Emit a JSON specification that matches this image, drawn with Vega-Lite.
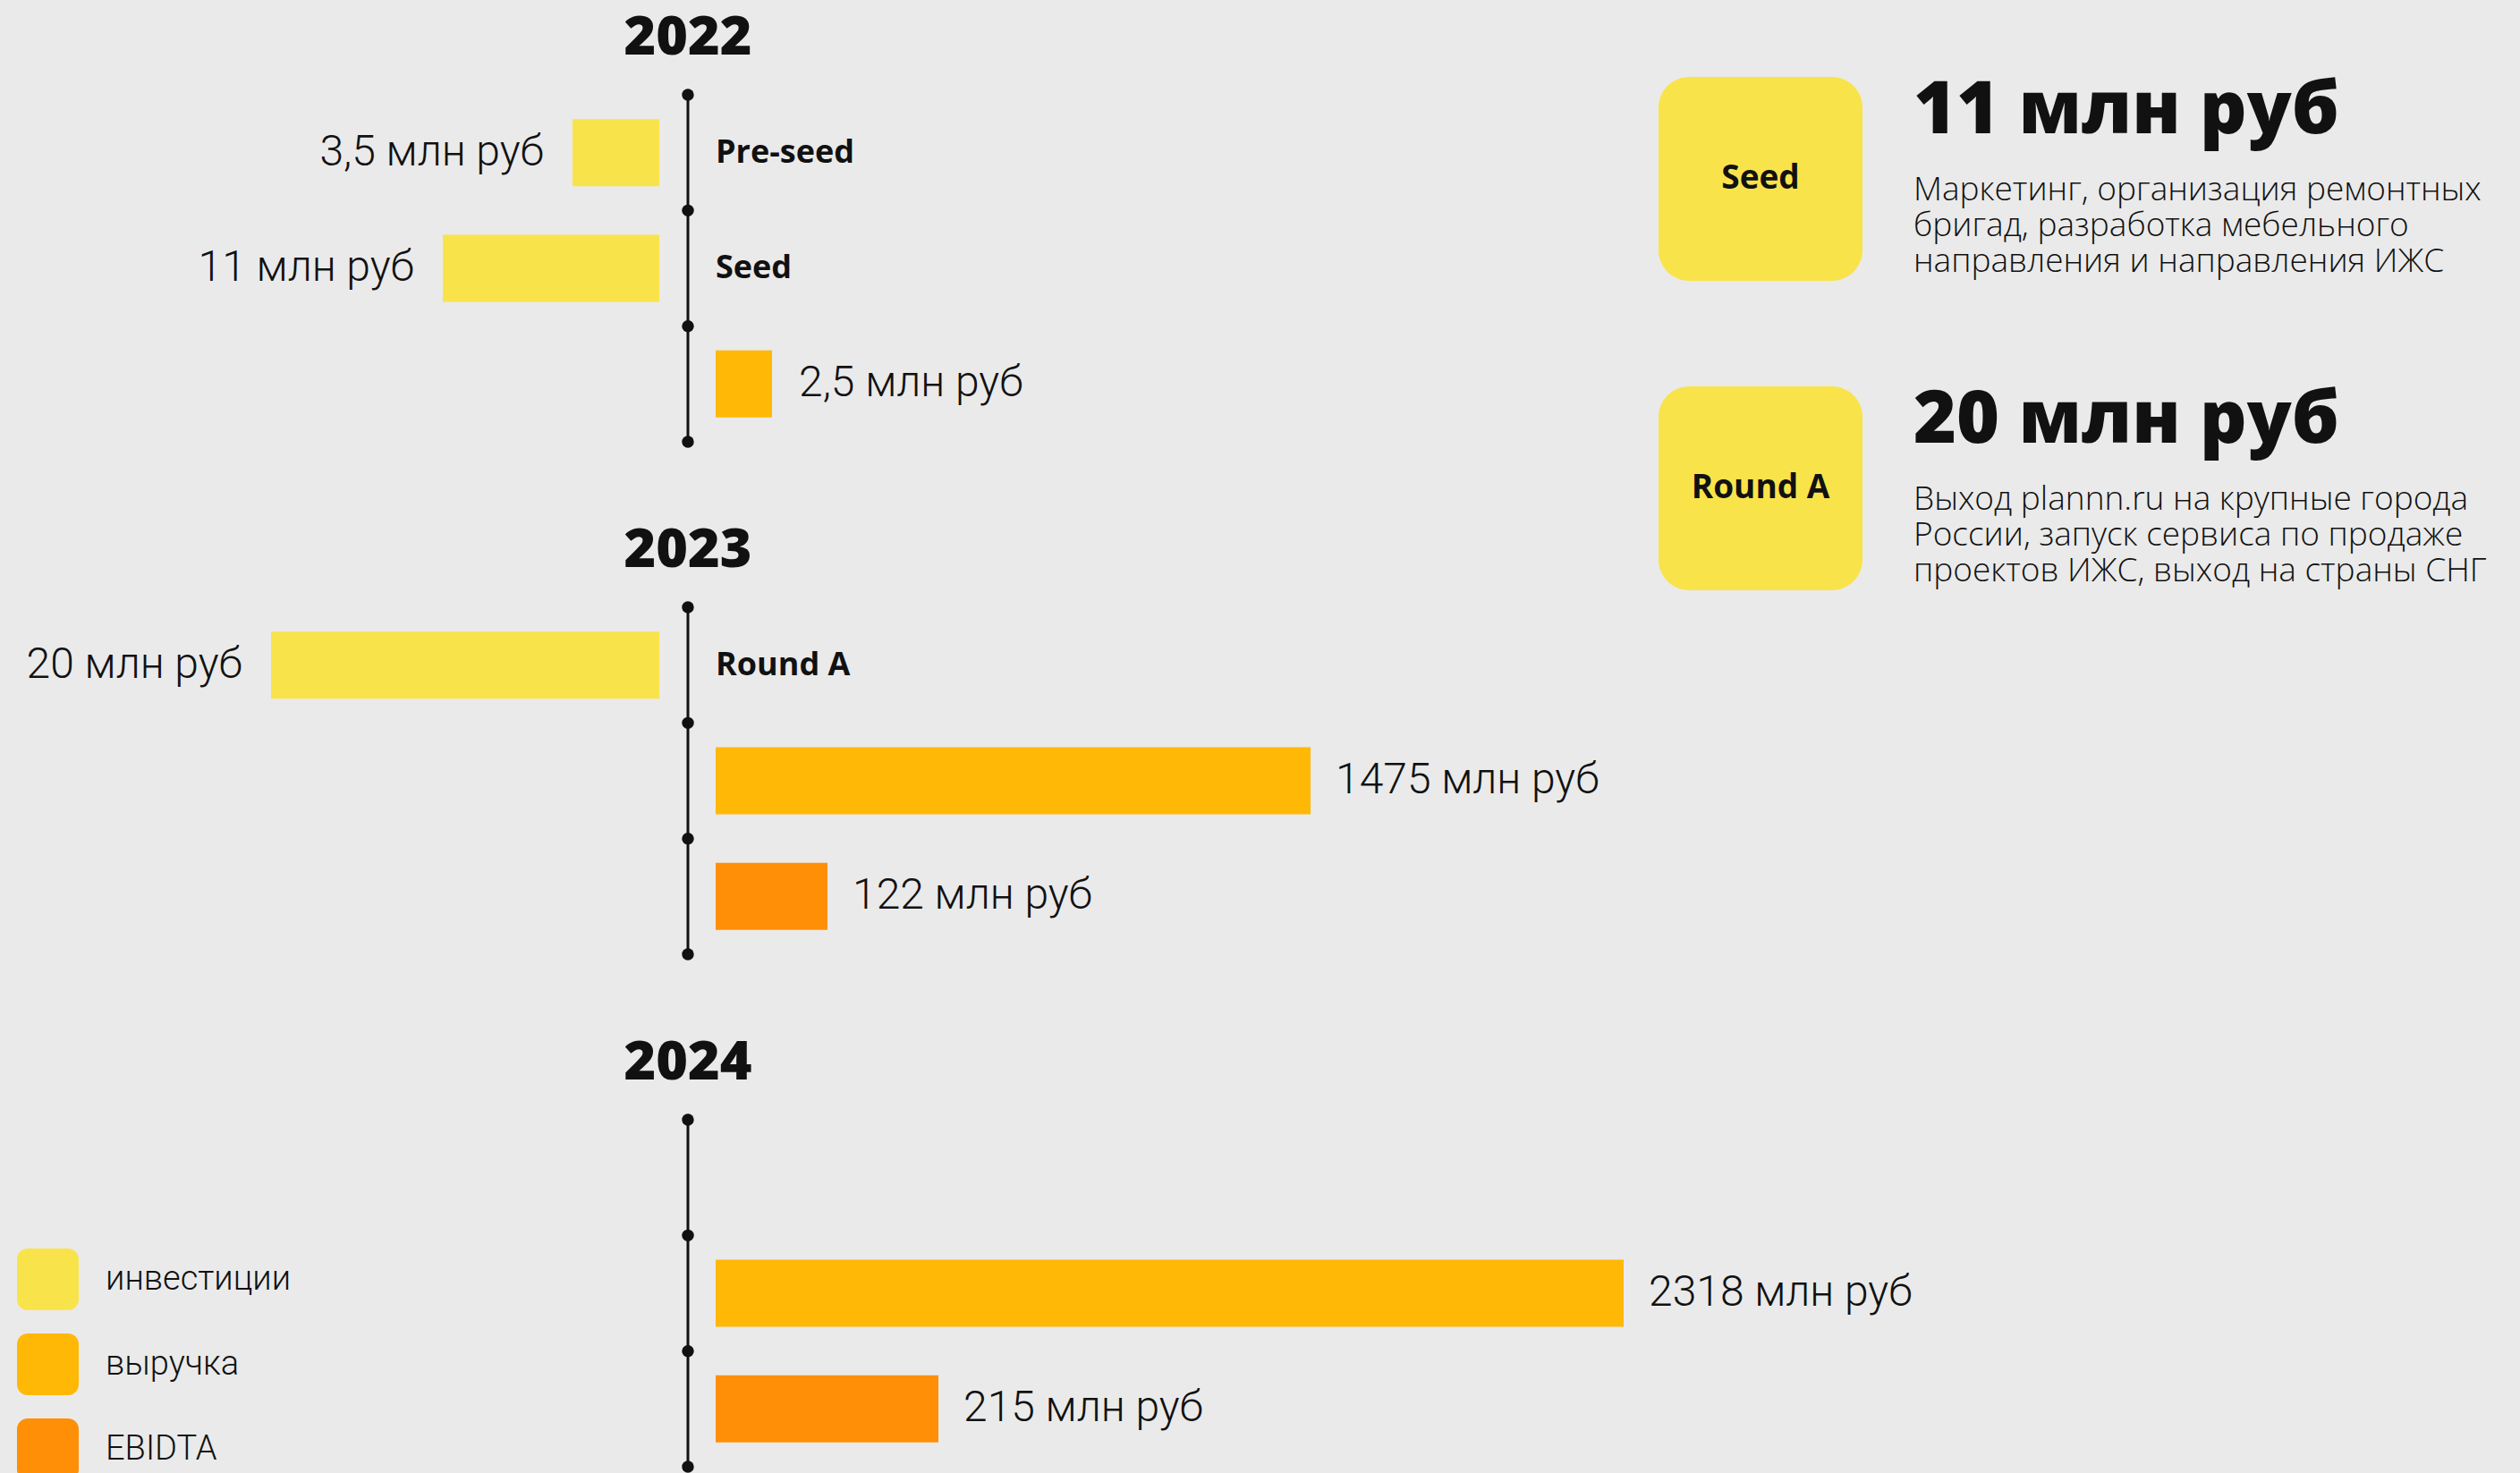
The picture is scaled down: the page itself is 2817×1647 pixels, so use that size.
{
  "$schema": "https://vega.github.io/schema/vega-lite/v6.json",
  "background": "#EAEAEA",
  "padding": {"left": 0, "top": 12, "right": 40, "bottom": 0},
  "config": {
    "view": {"stroke": null},
    "title": {"font": "Open Sans", "fontSize": 61, "fontWeight": 800, "color": "#111111", "anchor": "middle", "frame": "group", "baseline": "alphabetic", "offset": 25},
    "legend": {
      "orient": "none", "legendX": 19, "legendY": 1290, "padding": 0,
      "symbolType": "M-0.65,-1L0.65,-1A0.35,0.35,0,0,1,1,-0.65L1,0.65A0.35,0.35,0,0,1,0.65,1L-0.65,1A0.35,0.35,0,0,1,-1,0.65L-1,-0.65A0.35,0.35,0,0,1,-0.65,-1Z",
      "symbolSize": 4761, "symbolStrokeWidth": 0, "symbolOpacity": 1,
      "labelFont": "Roboto", "labelFontSize": 38, "labelFontWeight": 300, "labelColor": "#111111", "labelLimit": 500,
      "labelOffset": 30, "rowPadding": 26
    },
    "text": {"font": "Roboto", "color": "#111111"}
  },
  "datasets": {
    "funding": [
      {"year": 2022, "slot": 1, "type": "инвестиции", "stage": "Pre-seed", "value": 3.5, "label": "3,5 млн руб"},
      {"year": 2022, "slot": 2, "type": "инвестиции", "stage": "Seed", "value": 11, "label": "11 млн руб", "description": "Маркетинг, организация ремонтных\nбригад, разработка мебельного\nнаправления и направления ИЖС"},
      {"year": 2022, "slot": 3, "type": "выручка", "value": 2.5, "label": "2,5 млн руб"},
      {"year": 2023, "slot": 1, "type": "инвестиции", "stage": "Round A", "value": 20, "label": "20 млн руб", "description": "Выход plannn.ru на крупные города\nРоссии, запуск сервиса по продаже\nпроектов ИЖС, выход на страны СНГ"},
      {"year": 2023, "slot": 2, "type": "выручка", "value": 1475, "label": "1475 млн руб"},
      {"year": 2023, "slot": 3, "type": "EBIDTA", "value": 122, "label": "122 млн руб"},
      {"year": 2024, "slot": 2, "type": "выручка", "value": 2318, "label": "2318 млн руб"},
      {"year": 2024, "slot": 3, "type": "EBIDTA", "value": 215, "label": "215 млн руб"}
    ],
    "ticks": [{"tick": 0}, {"tick": 1}, {"tick": 2}, {"tick": 3}]
  },
  "hconcat": [
    {
      "vconcat": [
        {
          "title": {"text": "2022"},
          "width": 1538, "height": 388,
          "layer": [
            {"data": {"name": "ticks"}, "mark": {"type": "rule", "color": "#111111", "strokeWidth": 3},
             "encoding": {
               "x": {"datum": 0, "type": "quantitative", "scale": {"domain": [-1, 1], "nice": false, "zero": false}, "axis": null},
               "y": {"aggregate": "min", "field": "tick", "type": "quantitative", "scale": {"domain": [0, 3], "nice": false, "zero": false, "reverse": true}, "axis": null},
               "y2": {"aggregate": "max", "field": "tick"}}},
            {"data": {"name": "ticks"}, "mark": {"type": "point", "filled": true, "size": 180, "color": "#111111", "opacity": 1},
             "encoding": {
               "x": {"datum": 0, "type": "quantitative", "scale": {"domain": [-1, 1], "nice": false, "zero": false}, "axis": null},
               "y": {"field": "tick", "type": "quantitative", "scale": {"domain": [0, 3], "nice": false, "zero": false, "reverse": true}, "axis": null}}},
            {"data": {"name": "funding"}, "transform": [{"filter": "datum.year == 2022 && datum.type == 'инвестиции'"}],
             "mark": {"type": "bar"},
             "encoding": {
               "x": {"field": "value", "type": "quantitative", "scale": {"domain": [0, 3.5, 11, 20], "range": [737, 640, 495, 303], "nice": false, "zero": false}, "axis": null},
               "y": {"field": "slot", "type": "ordinal", "scale": {"type": "band", "domain": [1, 2, 3], "paddingInner": 0.42, "paddingOuter": 0.21}, "axis": null},
               "color": {"field": "type", "type": "nominal", "title": null, "scale": {"domain": ["инвестиции", "выручка", "EBIDTA"], "range": ["#F9E34B", "#FFB805", "#FF8F06"]}}}},
            {"data": {"name": "funding"}, "transform": [{"filter": "datum.year == 2022 && datum.type == 'инвестиции'"}],
             "mark": {"type": "text", "align": "right", "baseline": "middle", "dx": -32, "fontSize": 48, "fontWeight": 300},
             "encoding": {
               "x": {"field": "value", "type": "quantitative", "scale": {"domain": [0, 3.5, 11, 20], "range": [737, 640, 495, 303], "nice": false, "zero": false}, "axis": null},
               "y": {"field": "slot", "type": "ordinal", "scale": {"type": "band", "domain": [1, 2, 3], "paddingInner": 0.42, "paddingOuter": 0.21}, "axis": null},
               "text": {"field": "label"}}},
            {"data": {"name": "funding"}, "transform": [{"filter": "datum.year == 2022 && datum.type == 'инвестиции'"}],
             "mark": {"type": "text", "align": "left", "baseline": "middle", "font": "Open Sans", "fontWeight": "bold", "fontSize": 36},
             "encoding": {
               "x": {"datum": 0, "type": "quantitative", "scale": {"domain": [0, 2.5, 122, 215, 1475, 2318], "range": [800, 863, 925, 1049, 1465, 1815], "nice": false, "zero": false}, "axis": null},
               "y": {"field": "slot", "type": "ordinal", "scale": {"type": "band", "domain": [1, 2, 3], "paddingInner": 0.42, "paddingOuter": 0.21}, "axis": null},
               "text": {"field": "stage"}}},
            {"data": {"name": "funding"}, "transform": [{"filter": "datum.year == 2022 && datum.type != 'инвестиции'"}],
             "mark": {"type": "bar"},
             "encoding": {
               "x": {"field": "value", "type": "quantitative", "scale": {"domain": [0, 2.5, 122, 215, 1475, 2318], "range": [800, 863, 925, 1049, 1465, 1815], "nice": false, "zero": false}, "axis": null},
               "y": {"field": "slot", "type": "ordinal", "scale": {"type": "band", "domain": [1, 2, 3], "paddingInner": 0.42, "paddingOuter": 0.21}, "axis": null},
               "color": {"field": "type", "type": "nominal", "title": null, "scale": {"domain": ["инвестиции", "выручка", "EBIDTA"], "range": ["#F9E34B", "#FFB805", "#FF8F06"]}}}},
            {"data": {"name": "funding"}, "transform": [{"filter": "datum.year == 2022 && datum.type != 'инвестиции'"}],
             "mark": {"type": "text", "align": "left", "baseline": "middle", "dx": 30, "fontSize": 48, "fontWeight": 300},
             "encoding": {
               "x": {"field": "value", "type": "quantitative", "scale": {"domain": [0, 2.5, 122, 215, 1475, 2318], "range": [800, 863, 925, 1049, 1465, 1815], "nice": false, "zero": false}, "axis": null},
               "y": {"field": "slot", "type": "ordinal", "scale": {"type": "band", "domain": [1, 2, 3], "paddingInner": 0.42, "paddingOuter": 0.21}, "axis": null},
               "text": {"field": "label"}}}
          ],
          "resolve": {"scale": {"x": "independent", "y": "independent"}}
        },
        {
          "title": {"text": "2023"},
          "width": 1538, "height": 388,
          "layer": [
            {"data": {"name": "ticks"}, "mark": {"type": "rule", "color": "#111111", "strokeWidth": 3},
             "encoding": {
               "x": {"datum": 0, "type": "quantitative", "scale": {"domain": [-1, 1], "nice": false, "zero": false}, "axis": null},
               "y": {"aggregate": "min", "field": "tick", "type": "quantitative", "scale": {"domain": [0, 3], "nice": false, "zero": false, "reverse": true}, "axis": null},
               "y2": {"aggregate": "max", "field": "tick"}}},
            {"data": {"name": "ticks"}, "mark": {"type": "point", "filled": true, "size": 180, "color": "#111111", "opacity": 1},
             "encoding": {
               "x": {"datum": 0, "type": "quantitative", "scale": {"domain": [-1, 1], "nice": false, "zero": false}, "axis": null},
               "y": {"field": "tick", "type": "quantitative", "scale": {"domain": [0, 3], "nice": false, "zero": false, "reverse": true}, "axis": null}}},
            {"data": {"name": "funding"}, "transform": [{"filter": "datum.year == 2023 && datum.type == 'инвестиции'"}],
             "mark": {"type": "bar"},
             "encoding": {
               "x": {"field": "value", "type": "quantitative", "scale": {"domain": [0, 3.5, 11, 20], "range": [737, 640, 495, 303], "nice": false, "zero": false}, "axis": null},
               "y": {"field": "slot", "type": "ordinal", "scale": {"type": "band", "domain": [1, 2, 3], "paddingInner": 0.42, "paddingOuter": 0.21}, "axis": null},
               "color": {"field": "type", "type": "nominal", "title": null, "scale": {"domain": ["инвестиции", "выручка", "EBIDTA"], "range": ["#F9E34B", "#FFB805", "#FF8F06"]}}}},
            {"data": {"name": "funding"}, "transform": [{"filter": "datum.year == 2023 && datum.type == 'инвестиции'"}],
             "mark": {"type": "text", "align": "right", "baseline": "middle", "dx": -32, "fontSize": 48, "fontWeight": 300},
             "encoding": {
               "x": {"field": "value", "type": "quantitative", "scale": {"domain": [0, 3.5, 11, 20], "range": [737, 640, 495, 303], "nice": false, "zero": false}, "axis": null},
               "y": {"field": "slot", "type": "ordinal", "scale": {"type": "band", "domain": [1, 2, 3], "paddingInner": 0.42, "paddingOuter": 0.21}, "axis": null},
               "text": {"field": "label"}}},
            {"data": {"name": "funding"}, "transform": [{"filter": "datum.year == 2023 && datum.type == 'инвестиции'"}],
             "mark": {"type": "text", "align": "left", "baseline": "middle", "font": "Open Sans", "fontWeight": "bold", "fontSize": 36},
             "encoding": {
               "x": {"datum": 0, "type": "quantitative", "scale": {"domain": [0, 2.5, 122, 215, 1475, 2318], "range": [800, 863, 925, 1049, 1465, 1815], "nice": false, "zero": false}, "axis": null},
               "y": {"field": "slot", "type": "ordinal", "scale": {"type": "band", "domain": [1, 2, 3], "paddingInner": 0.42, "paddingOuter": 0.21}, "axis": null},
               "text": {"field": "stage"}}},
            {"data": {"name": "funding"}, "transform": [{"filter": "datum.year == 2023 && datum.type != 'инвестиции'"}],
             "mark": {"type": "bar"},
             "encoding": {
               "x": {"field": "value", "type": "quantitative", "scale": {"domain": [0, 2.5, 122, 215, 1475, 2318], "range": [800, 863, 925, 1049, 1465, 1815], "nice": false, "zero": false}, "axis": null},
               "y": {"field": "slot", "type": "ordinal", "scale": {"type": "band", "domain": [1, 2, 3], "paddingInner": 0.42, "paddingOuter": 0.21}, "axis": null},
               "color": {"field": "type", "type": "nominal", "title": null, "scale": {"domain": ["инвестиции", "выручка", "EBIDTA"], "range": ["#F9E34B", "#FFB805", "#FF8F06"]}}}},
            {"data": {"name": "funding"}, "transform": [{"filter": "datum.year == 2023 && datum.type != 'инвестиции'"}],
             "mark": {"type": "text", "align": "left", "baseline": "middle", "dx": 28, "fontSize": 48, "fontWeight": 300},
             "encoding": {
               "x": {"field": "value", "type": "quantitative", "scale": {"domain": [0, 2.5, 122, 215, 1475, 2318], "range": [800, 863, 925, 1049, 1465, 1815], "nice": false, "zero": false}, "axis": null},
               "y": {"field": "slot", "type": "ordinal", "scale": {"type": "band", "domain": [1, 2, 3], "paddingInner": 0.42, "paddingOuter": 0.21}, "axis": null},
               "text": {"field": "label"}}}
          ],
          "resolve": {"scale": {"x": "independent", "y": "independent"}}
        },
        {
          "title": {"text": "2024"},
          "width": 1538, "height": 388,
          "layer": [
            {"data": {"name": "ticks"}, "mark": {"type": "rule", "color": "#111111", "strokeWidth": 3},
             "encoding": {
               "x": {"datum": 0, "type": "quantitative", "scale": {"domain": [-1, 1], "nice": false, "zero": false}, "axis": null},
               "y": {"aggregate": "min", "field": "tick", "type": "quantitative", "scale": {"domain": [0, 3], "nice": false, "zero": false, "reverse": true}, "axis": null},
               "y2": {"aggregate": "max", "field": "tick"}}},
            {"data": {"name": "ticks"}, "mark": {"type": "point", "filled": true, "size": 180, "color": "#111111", "opacity": 1},
             "encoding": {
               "x": {"datum": 0, "type": "quantitative", "scale": {"domain": [-1, 1], "nice": false, "zero": false}, "axis": null},
               "y": {"field": "tick", "type": "quantitative", "scale": {"domain": [0, 3], "nice": false, "zero": false, "reverse": true}, "axis": null}}},
            {"data": {"name": "funding"}, "transform": [{"filter": "datum.year == 2024 && datum.type != 'инвестиции'"}],
             "mark": {"type": "bar"},
             "encoding": {
               "x": {"field": "value", "type": "quantitative", "scale": {"domain": [0, 2.5, 122, 215, 1475, 2318], "range": [800, 863, 925, 1049, 1465, 1815], "nice": false, "zero": false}, "axis": null},
               "y": {"field": "slot", "type": "ordinal", "scale": {"type": "band", "domain": [1, 2, 3], "paddingInner": 0.42, "paddingOuter": 0.21}, "axis": null},
               "color": {"field": "type", "type": "nominal", "title": null, "scale": {"domain": ["инвестиции", "выручка", "EBIDTA"], "range": ["#F9E34B", "#FFB805", "#FF8F06"]}}}},
            {"data": {"name": "funding"}, "transform": [{"filter": "datum.year == 2024 && datum.type != 'инвестиции'"}],
             "mark": {"type": "text", "align": "left", "baseline": "middle", "dx": 28, "fontSize": 48, "fontWeight": 300},
             "encoding": {
               "x": {"field": "value", "type": "quantitative", "scale": {"domain": [0, 2.5, 122, 215, 1475, 2318], "range": [800, 863, 925, 1049, 1465, 1815], "nice": false, "zero": false}, "axis": null},
               "y": {"field": "slot", "type": "ordinal", "scale": {"type": "band", "domain": [1, 2, 3], "paddingInner": 0.42, "paddingOuter": 0.21}, "axis": null},
               "text": {"field": "label"}}}
          ],
          "resolve": {"scale": {"x": "independent", "y": "independent"}}
        }
      ],
      "spacing": 185,
      "bounds": "flush",
      "resolve": {"scale": {"color": "shared"}}
    },
    {
      "width": 399, "height": 534,
      "data": {"name": "funding"},
      "transform": [{"filter": "isValid(datum.description)"}],
      "encoding": {
        "y": {"field": "stage", "type": "nominal", "scale": {"type": "point", "domain": ["Seed", "Round A"], "padding": 0.2717}, "axis": null}
      },
      "layer": [
        {"mark": {"type": "point", "shape": "M-0.7,-1L0.7,-1A0.3,0.3,0,0,1,1,-0.7L1,0.7A0.3,0.3,0,0,1,0.7,1L-0.7,1A0.3,0.3,0,0,1,-1,0.7L-1,-0.7A0.3,0.3,0,0,1,-0.7,-1Z", "size": 51984, "filled": true, "color": "#F9E34B", "opacity": 1, "strokeWidth": 0},
         "encoding": {"x": {"datum": "box", "type": "nominal", "scale": {"type": "point", "domain": ["box", "text"], "padding": 0.6667, "align": 0.5}, "axis": null}}},
        {"mark": {"type": "text", "font": "Open Sans", "fontWeight": "bold", "fontSize": 37, "align": "center", "baseline": "middle"},
         "encoding": {"x": {"datum": "box", "type": "nominal", "axis": null}, "text": {"field": "stage"}}},
        {"mark": {"type": "text", "font": "Open Sans", "fontWeight": 800, "fontSize": 82, "align": "left", "baseline": "alphabetic", "dy": -51},
         "encoding": {"x": {"datum": "text", "type": "nominal", "axis": null}, "text": {"field": "label"}}},
        {"mark": {"type": "text", "font": "Open Sans", "fontWeight": 300, "fontSize": 37, "lineBreak": "\n", "lineHeight": 40, "align": "left", "baseline": "alphabetic", "dy": 24},
         "encoding": {"x": {"datum": "text", "type": "nominal", "axis": null}, "text": {"field": "description"}}}
      ]
    }
  ],
  "spacing": 1854,
  "bounds": "flush",
  "resolve": {"scale": {"color": "shared"}}
}
